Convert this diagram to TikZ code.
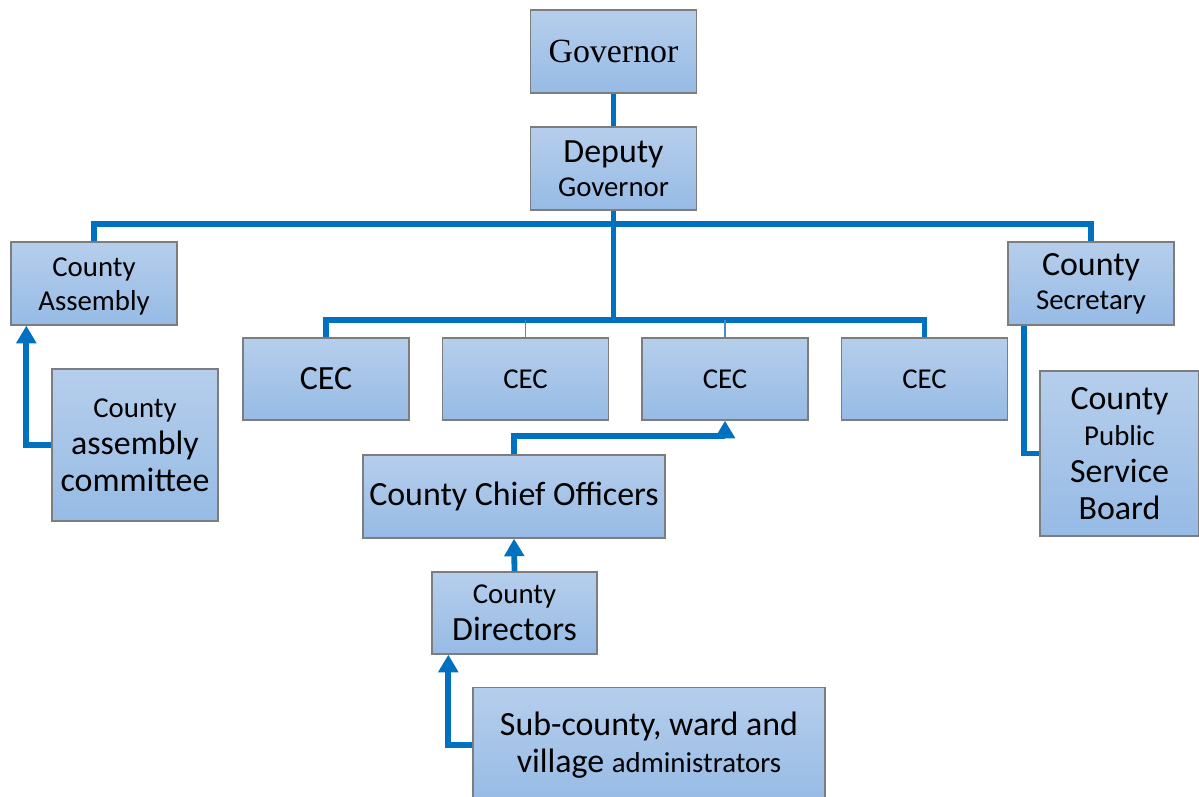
\documentclass[tikz,border=0pt]{standalone}
\usepackage{fontspec}
\setmainfont{Carlito}
\newfontfamily\govfont{Liberation Serif}
\usetikzlibrary{arrows.meta}

\definecolor{linkblue}{RGB}{0,112,192}
\definecolor{thinblue}{RGB}{70,140,205}
\definecolor{boxtop}{RGB}{182,206,236}
\definecolor{boxbot}{RGB}{150,187,229}
\definecolor{boxline}{RGB}{125,125,125}

\newcommand{\bigtxt}{\fontsize{19.3}{21}\selectfont}
\newcommand{\smtxt}{\fontsize{16.4}{21}\selectfont}

\tikzset{
  orgbox/.style={draw=boxline, line width=0.8pt, rectangle, top color=boxtop, bottom color=boxbot,
    minimum width=3.32cm, minimum height=1.66cm, inner sep=0pt, align=center,
    font=\fontsize{16.4}{21}\selectfont},
  link/.style={draw=linkblue, line width=3.3pt},
  thinlink/.style={draw=thinblue, line width=1.1pt},
  arr/.style={link, -{Triangle[length=10pt, width=11pt]}}
}

\begin{document}
\begin{tikzpicture}[x=0.02cm, y=-0.02cm]
\useasboundingbox (0,0) rectangle (1199,797);

\node[orgbox] (gov) at (613.5,51.5) {\govfont\bigtxt Governor};
\node[orgbox, font=\fontsize{16.4}{19.5}\selectfont] (dep) at (613.5,168.5) {\bigtxt Deputy\\\smtxt Governor};
\node[orgbox, font=\fontsize{16.4}{19.5}\selectfont] (asm) at (94,283.5) {\strut County\\Assembly};
\node[orgbox, font=\fontsize{16.4}{19.5}\selectfont] (sec) at (1091,283.5) {\bigtxt County\\\smtxt Secretary};

\node[orgbox, minimum height=1.64cm] (cec1) at (326,379) {\bigtxt CEC};
\node[orgbox, minimum height=1.64cm] (cec2) at (525.5,379) {CEC};
\node[orgbox, minimum height=1.64cm] (cec3) at (725,379) {CEC};
\node[orgbox, minimum height=1.64cm] (cec4) at (924.5,379) {CEC};

\node[orgbox, minimum height=3.04cm] (cmt) at (135,445) {County\\\bigtxt assembly\\\bigtxt committee};
\node[orgbox, minimum width=3.18cm, minimum height=3.3cm] (psb) at (1119.5,453.5)
  {\bigtxt County\\Public\\\bigtxt Service\\\bigtxt Board};
\node[orgbox, minimum width=6.04cm] (cco) at (514,496.5) {\bigtxt County Chief Officers};
\node[orgbox, minimum width=3.3cm, minimum height=1.64cm] (dir) at (514.5,613) {County\\\bigtxt Directors};
\node[orgbox, minimum width=7.04cm, minimum height=2.3cm] (sub) at (649,745)
  {\bigtxt Sub-county, ward and\\\bigtxt village \smtxt administrators};

% bus lines
\coordinate (bus) at (613.5,224);
\coordinate (cecbus) at (613.5,320);

\draw[link] (gov) -- (dep);
\draw[link] (dep.south) -- (cecbus);
\draw[link] (asm.north) |- (bus) -| (sec.north);
\draw[link] (cec1.north) |- (cecbus) -| (cec4.north);
\draw[thinlink] (cec2.north) -- (cec2.north |- cecbus);
\draw[thinlink] (cec3.north) -- (cec3.north |- cecbus);

% reporting arrows
\draw[arr] (cco.north) -- ++(0,-18) -| (cec3.south);
\draw[arr] (dir.north) -- (cco.south);
\draw[arr] (cmt.west) -| ([xshift=0.32cm]asm.south west);
\draw[arr] (sub.west) -| ([xshift=0.34cm]dir.south west);
\draw[link] ([xshift=0.34cm]sec.south west) |- (psb.west);
\end{tikzpicture}
\end{document}
